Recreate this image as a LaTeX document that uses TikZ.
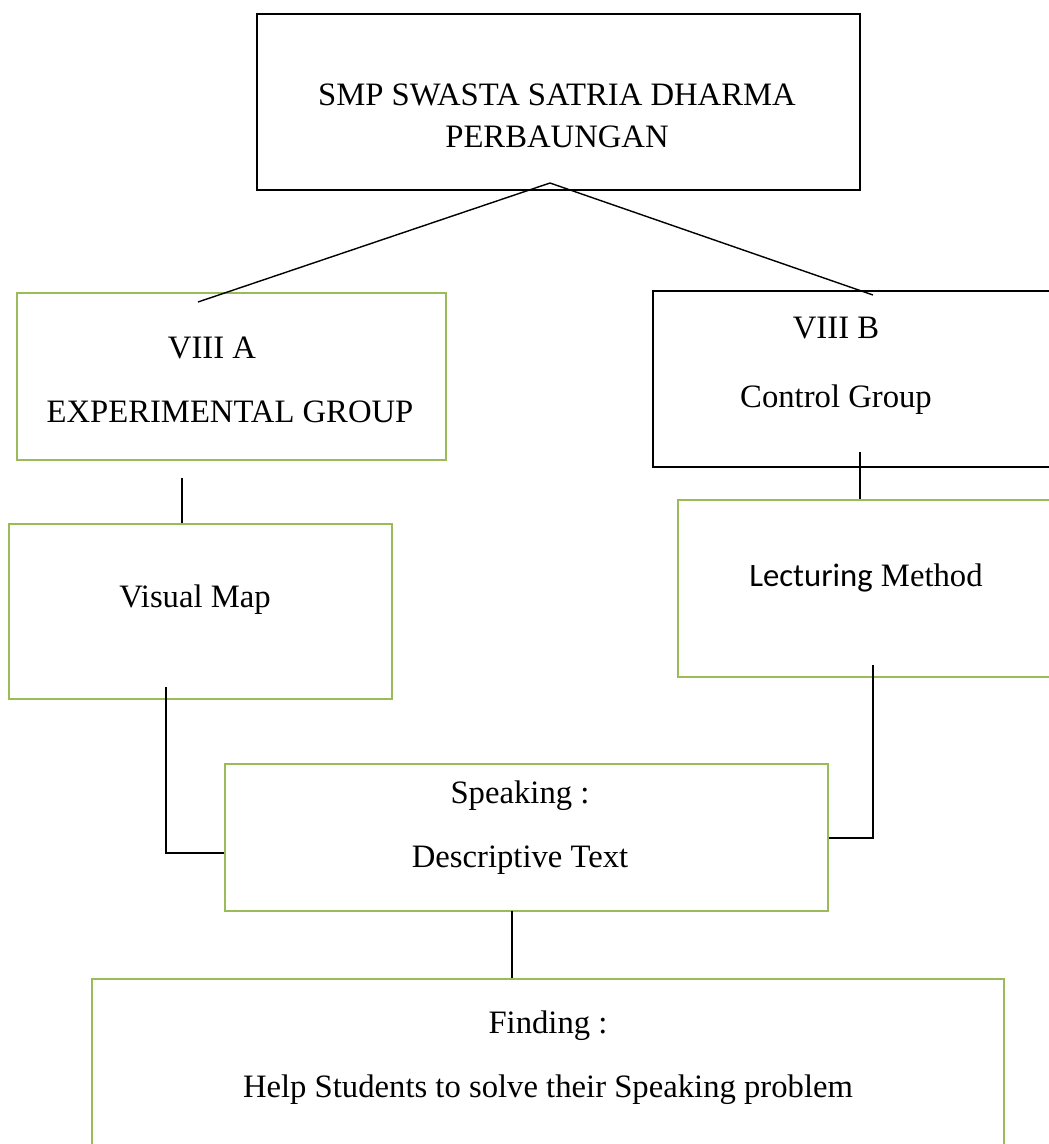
\documentclass[tikz,border=0pt]{standalone}
\usepackage{fontspec}
\setmainfont{Liberation Serif}
\newfontfamily\calibri{Carlito}
\newlength\pxu
\setlength\pxu{0.02cm}
\definecolor{boxgreen}{RGB}{155,187,89}
\begin{document}
\begin{tikzpicture}[x=1\pxu, y=-1\pxu, font=\fontsize{18.6}{24}\selectfont,
	blackbox/.style={draw=black, line width=1.6pt, inner sep=0pt},
	greenbox/.style={draw=boxgreen, line width=1.6pt, inner sep=0pt},
	link/.style={line width=0.8pt},
	txt/.style={align=center, inner sep=0pt}]
	\useasboundingbox (0,0) rectangle (1049,1144);
	\clip (0,0) rectangle (1049,1144);
	% boxes
	\node[blackbox, minimum width=603\pxu, minimum height=176\pxu] (school) at (558.5,102) {};
	\node[greenbox, minimum width=429\pxu, minimum height=167\pxu] (grpA) at (231.5,376.5) {};
	\node[blackbox, minimum width=417\pxu, minimum height=176\pxu] (grpB) at (861.5,379) {};
	\node[greenbox, minimum width=383\pxu, minimum height=175\pxu] (vmap) at (200.5,611.5) {};
	\node[greenbox, minimum width=392\pxu, minimum height=177\pxu] (lect) at (874,588.5) {};
	\node[greenbox, minimum width=603\pxu, minimum height=147\pxu] (speak) at (526.5,837.5) {};
	\node[greenbox, minimum width=912\pxu, minimum height=181\pxu] (find) at (548,1069.5) {};
	% texts
	\node[txt] (schoolTxt) at (557,116) {SMP SWASTA SATRIA DHARMA\\[0pt] PERBAUNGAN};
	\node[txt] (grpATxt) at (230,380) {VIII A\hspace*{36\pxu}\\[12.5pt] EXPERIMENTAL GROUP};
	\node[txt] (grpBTxt) at (836,366) {VIII B\\[15.4pt] Control Group};
	\node[txt] (vmapTxt) at (195,600) {Visual Map};
	\node[txt] (lectTxt) at (866,578) {{\calibri Lecturing} Method};
	\node[txt] (speakTxt) at (520,828) {Speaking :\\[12.5pt] Descriptive Text};
	\node[txt] (findTxt) at (548,1058) {Finding :\\[12.5pt] Help Students to solve their Speaking problem};
	% connectors
	\coordinate (apex) at (550,183);
	\coordinate (aEnd) at (198,302);
	\coordinate (bEnd) at (873,295);
	\coordinate (aDrop) at (182,478);
	\coordinate (bDrop) at (860,452);
	\coordinate (vTop) at (166,687);
	\coordinate (vJoin) at (166,853);
	\coordinate (lTop) at (873,665);
	\coordinate (lJoin) at (873,838);
	\coordinate (sDrop) at (512,911);
	\draw[link] (apex) -- (aEnd);
	\draw[link] (apex) -- (bEnd);
	\draw[link] (aDrop) -- (aDrop |- vmap.north);
	\draw[link] (bDrop) -- (bDrop |- lect.north);
	\draw[link] (vTop) -- (vJoin) -- (vJoin -| speak.west);
	\draw[link] (lTop) -- (lJoin) -- (lJoin -| speak.east);
	\draw[link] (sDrop) -- (sDrop |- find.north);
\end{tikzpicture}
\end{document}
